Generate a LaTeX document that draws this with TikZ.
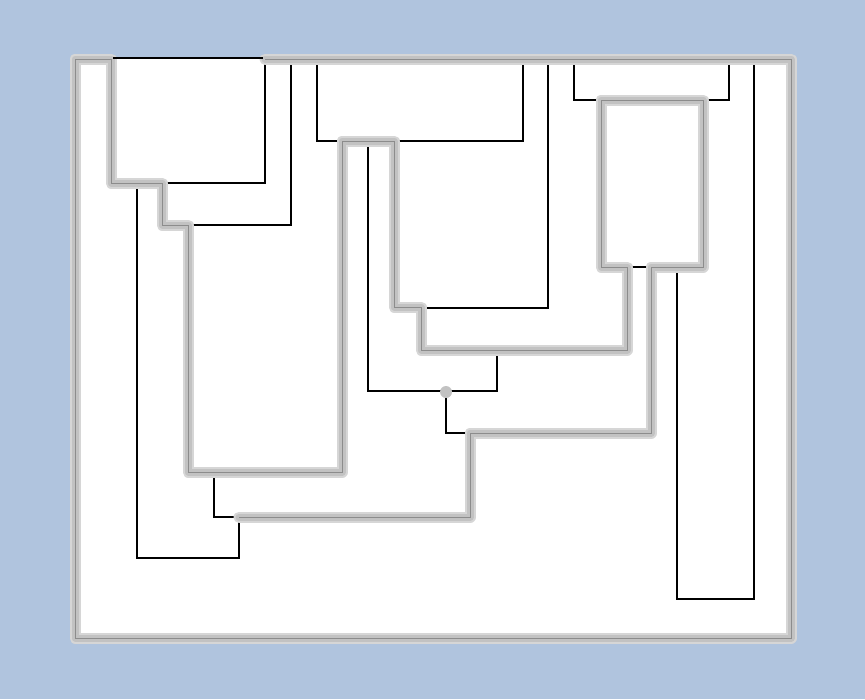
\documentclass[tikz,border=0pt]{standalone}
\usepackage{xcolor}
\usepackage{tikz}
\definecolor{bgblue}{HTML}{B0C4DE}
\definecolor{hlglow}{HTML}{D6D6D6}
\definecolor{hlgray}{HTML}{C2C2C2}
\definecolor{hledge}{HTML}{8C8C8C}
\tikzstyle{branch} = [draw=black, line width=1.3pt]
\tikzstyle{glow} = [draw=hlglow, line width=11pt, line join=round, line cap=round]
\tikzstyle{highlight} = [draw=hlgray, line width=7pt, line join=round, line cap=round]
\tikzstyle{hledge} = [draw=hledge, line width=0.9pt]
\tikzstyle{junction} = [circle, fill=hlgray, inner sep=0pt, minimum size=12pt]

\begin{document}
\begin{tikzpicture}[x=1pt, y=-1pt]
    \fill [bgblue] (0,0) rectangle (865,699);
    \fill [white] (74,59) rectangle (792,639);

    % black branches
    \draw [branch] (111,183) -- (265,183) -- (265,58) -- (111,58);
    \draw [branch] (137,183) -- (137,558) -- (239,558) -- (239,517);
    \draw [branch] (214,472) -- (214,517) -- (239,517);
    \draw [branch] (188,225) -- (291,225) -- (291,58);
    \draw [branch] (317,58) -- (317,141) -- (523,141) -- (523,58);
    \draw [branch] (368,141) -- (368,391) -- (497,391) -- (497,350);
    \draw [branch] (446,391) -- (446,433) -- (470,433);
    \draw [branch] (548,58) -- (548,308) -- (421,308);
    \draw [branch] (574,58) -- (574,100) -- (729,100) -- (729,58);
    \draw [branch] (627,267) -- (651,267);
    \draw [branch] (754,58) -- (754,599) -- (677,599) -- (677,267);

    % highlighted path
    \def\hlpath{(265,59) -- (791,59) -- (791,638) -- (75,638) -- (75,59) -- (111,59)
        -- (111,183) -- (162,183) -- (162,225) -- (188,225) -- (188,472) -- (342,472)
        -- (342,141) -- (394,141) -- (394,307) -- (421,307) -- (421,350) -- (627,350)
        -- (627,267) -- (601,267) -- (601,100) -- (703,100) -- (703,267) -- (651,267)
        -- (651,433) -- (470,433) -- (470,517) -- (239,517)}
    \draw [glow] \hlpath;
    \draw [highlight] \hlpath;
    \draw [hledge] \hlpath;
    \draw [branch] (113,58) -- (263,58);

    \node (dot) [junction] at (446,392) {};
\end{tikzpicture}
\end{document}
